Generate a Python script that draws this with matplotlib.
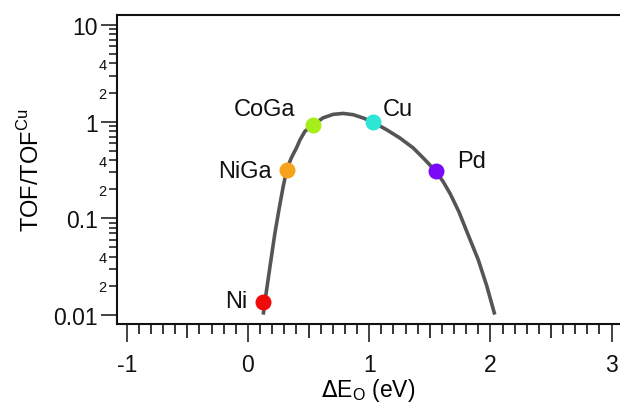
import matplotlib
matplotlib.use("Agg")
import matplotlib.pyplot as plt
from matplotlib.ticker import FixedLocator, FuncFormatter
import numpy as np

plt.rcParams['font.family'] = ['Liberation Sans', 'DejaVu Sans']

# volcano curve (x in eV, y = TOF/TOF_Cu)
curve_x = [0.126, 0.154, 0.190, 0.223, 0.256, 0.291, 0.324, 0.360, 0.401, 0.429,
           0.470, 0.538, 0.621, 0.703, 0.786, 0.868, 0.951, 1.028, 1.143, 1.253,
           1.363, 1.459, 1.550, 1.610, 1.670, 1.740, 1.800, 1.900, 1.970, 2.036]
curve_y = [0.0101, 0.0182, 0.0372, 0.0708, 0.123, 0.214, 0.331, 0.427, 0.537, 0.646,
           0.794, 0.931, 1.096, 1.189, 1.216, 1.180, 1.091, 0.993, 0.826, 0.678,
           0.535, 0.405, 0.306, 0.240, 0.178, 0.117, 0.0759, 0.0372, 0.0200, 0.0101]

# catalysts
names = ["Ni", "NiGa", "CoGa", "Cu", "Pd"]
de_o = [0.126, 0.324, 0.538, 1.028, 1.550]
tof = [0.0135, 0.319, 0.931, 0.993, 0.306]
colors = ["#f00a0a", "#f7a21b", "#a6ee1a", "#2ee6d6", "#7a0af5"]

xmajor = [-1, 0, 1, 2, 3]
ymajor = [0.01, 0.1, 1, 10]
ymajor_labels = ["0.01", "0.1", "1", "10"]

fig = plt.figure(figsize=(6.2, 4.06), dpi=100)
ax = fig.add_axes([117/620, 1-325/406, (619.5-117)/620, (325-16)/406])

ax.plot(curve_x, curve_y, color="#555555", lw=2.6, solid_joinstyle="round",
        solid_capstyle="butt", zorder=2)
for n, x, y, c in zip(names, de_o, tof, colors):
    ax.plot([x], [y], "o", ms=11.5, color=c, mec="none", zorder=3)

# labels (offset points, alignment)
offsets = {"Ni": (-11.5, -3.6, "right"),
           "NiGa": (-11, -5, "right"),
           "CoGa": (-13, 7, "right"),
           "Cu": (7, 5, "left"),
           "Pd": (15.5, 3, "left")}
for n, x, y in zip(names, de_o, tof):
    dx, dy, ha = offsets[n]
    ax.annotate(n, (x, y), xytext=(dx, dy), textcoords="offset points",
                ha=ha, va="baseline", fontsize=17, color="#111111")

ax.set_yscale("log")
ax.set_xlim(-1.08, 3.065)
ax.set_ylim(10**-2.093, 10**1.103)

for s in ax.spines.values():
    s.set_linewidth(1.5)
    s.set_color("#111111")
ax.spines["right"].set_linewidth(0.6)
ax.spines["right"].set_color("#bbbbbb")

# y ticks
ax.yaxis.set_major_locator(FixedLocator(ymajor))
def major_fmt(v, p):
    i = int(np.argmin([abs(np.log10(m) - np.log10(v)) for m in ymajor]))
    return ymajor_labels[i]
ax.yaxis.set_major_formatter(FuncFormatter(major_fmt))
yminor = [m * d for d in [0.01, 0.1, 1] for m in range(2, 10)]
ax.yaxis.set_minor_locator(FixedLocator(yminor))
def minor_fmt(v, p):
    lead = round(v / 10**np.floor(np.log10(v) + 1e-9))
    return str(lead) if lead in (2, 4) else ""
ax.yaxis.set_minor_formatter(FuncFormatter(minor_fmt))
ax.tick_params(axis="y", which="major", direction="out", length=11.5, width=1.1,
               labelsize=16.5, pad=2, colors="#111111")
ax.tick_params(axis="y", which="minor", direction="out", length=5.5, width=1.1,
               labelsize=10.5, pad=2, colors="#111111")

# x ticks
ax.xaxis.set_major_locator(FixedLocator(xmajor))
ax.xaxis.set_major_formatter(FuncFormatter(lambda v, p: f"{int(round(v))}"))
xminor = [round(-1 + 0.1 * i, 2) for i in range(41) if i % 5 != 0]
ax.xaxis.set_minor_locator(FixedLocator(xminor))
ax.tick_params(axis="x", which="major", direction="out", length=13, width=1.1,
               labelsize=16.5, pad=8, colors="#111111")
ax.tick_params(axis="x", which="minor", direction="out", length=7, width=1.1)
ax.tick_params(top=False, right=False, which="both")

sec = ax.secondary_xaxis("bottom")
sec.set_xticks([-0.5, 0.5, 1.5, 2.5])
sec.set_xticklabels([])
sec.tick_params(direction="out", length=10, width=1.1)
sec.spines["bottom"].set_visible(False)

ax.set_xlabel(r"$\Delta$E$_\mathregular{O}$ (eV)", fontsize=16.5, labelpad=0)
ax.set_ylabel(r"TOF/TOF$^\mathregular{Cu}$", fontsize=17, labelpad=7)

fig.savefig("out.png", dpi=100)
